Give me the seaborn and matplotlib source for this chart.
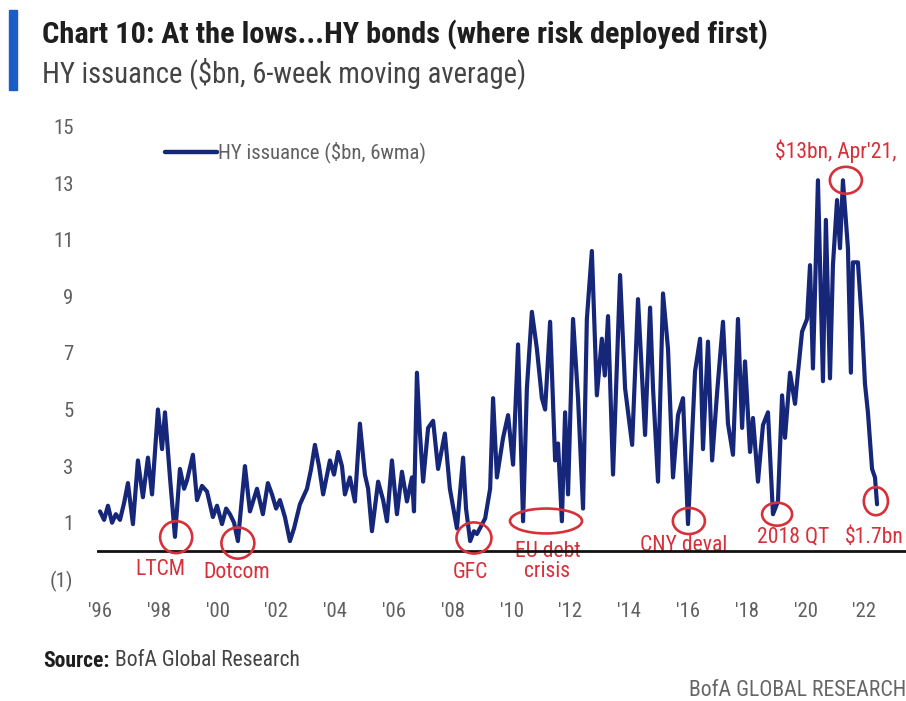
import matplotlib
matplotlib.use("Agg")
import matplotlib.pyplot as plt
from matplotlib import font_manager as fm
from matplotlib.patches import Ellipse, Rectangle
import seaborn as sns
import pandas as pd

# Weekly-ish HY issuance readings ($bn, 6-week moving average), by decimal year
years = [
    1996.00, 1996.14, 1996.27, 1996.41, 1996.54, 1996.68, 1996.82, 1996.95,
    1997.12, 1997.29, 1997.46, 1997.63, 1997.77, 1997.97, 1998.11, 1998.21,
    1998.38, 1998.55, 1998.72, 1998.86, 1998.96, 1999.16, 1999.30, 1999.47,
    1999.64, 1999.84, 1999.98, 2000.15, 2000.29, 2000.42, 2000.56, 2000.69,
    2000.93, 2001.10, 2001.34, 2001.54, 2001.71, 2001.85, 2001.99, 2002.12,
    2002.29, 2002.46, 2002.60, 2002.80, 2003.04, 2003.18, 2003.31, 2003.45,
    2003.59, 2003.82, 2003.96, 2004.10, 2004.23, 2004.33, 2004.50, 2004.67,
    2004.84, 2005.01, 2005.12, 2005.25, 2005.46, 2005.63, 2005.76, 2005.93,
    2006.10, 2006.27, 2006.44, 2006.61, 2006.68, 2006.78, 2006.88, 2006.99,
    2007.16, 2007.33, 2007.50, 2007.73, 2007.90, 2008.14, 2008.35, 2008.45,
    2008.59, 2008.72, 2008.82, 2009.10, 2009.27, 2009.37, 2009.50, 2009.71,
    2009.88, 2010.05, 2010.22, 2010.39, 2010.52, 2010.69, 2010.86, 2011.03,
    2011.14, 2011.31, 2011.48, 2011.58, 2011.71, 2011.82, 2011.92, 2012.09,
    2012.26, 2012.43, 2012.56, 2012.73, 2012.90, 2013.07, 2013.17, 2013.28,
    2013.45, 2013.69, 2013.86, 2014.10, 2014.30, 2014.54, 2014.71, 2014.81,
    2014.98, 2015.15, 2015.32, 2015.49, 2015.66, 2015.83, 2016.00, 2016.24,
    2016.41, 2016.51, 2016.68, 2016.82, 2016.99, 2017.19, 2017.36, 2017.53,
    2017.70, 2017.84, 2017.94, 2018.11, 2018.21, 2018.38, 2018.55, 2018.72,
    2018.89, 2019.06, 2019.20, 2019.30, 2019.47, 2019.64, 2019.74, 2019.88,
    2020.05, 2020.15, 2020.25, 2020.42, 2020.59, 2020.69, 2020.83, 2020.93,
    2021.07, 2021.17, 2021.27, 2021.44, 2021.54, 2021.61, 2021.78, 2021.92,
    2022.02, 2022.12, 2022.26, 2022.36, 2022.43,
]
issuance = [
    1.4, 1.1, 1.6, 1.0, 1.3, 1.1, 1.7, 2.4,
    0.95, 3.2, 1.9, 3.3, 2.0, 5.0, 3.6, 4.9,
    2.6, 0.5, 2.9, 2.2, 2.5, 3.4, 1.8, 2.3,
    2.1, 1.2, 1.6, 0.95, 1.5, 1.3, 1.0, 0.35,
    3.0, 1.4, 2.2, 1.3, 2.4, 2.0, 1.5, 1.8,
    1.2, 0.35, 0.8, 1.65, 2.2, 2.9, 3.75, 3.0,
    2.0, 3.2, 2.7, 3.5, 3.0, 2.0, 2.6, 1.75,
    4.5, 2.7, 2.2, 0.7, 2.45, 1.8, 1.05, 3.2,
    1.3, 2.8, 1.75, 2.6, 1.4, 6.3, 4.2, 2.45,
    4.35, 4.6, 2.9, 4.15, 2.2, 0.8, 3.3, 1.5,
    0.35, 0.7, 0.6, 1.15, 2.2, 5.4, 2.6, 4.0,
    4.8, 3.05, 7.3, 1.05, 5.75, 8.45, 7.15, 5.4,
    5.0, 8.1, 3.2, 3.8, 1.05, 4.9, 2.0, 8.2,
    5.4, 1.5, 8.2, 10.6, 5.5, 7.5, 6.2, 8.3,
    2.7, 9.75, 5.75, 3.75, 8.9, 4.1, 8.6, 5.75,
    2.45, 9.1, 7.15, 2.6, 4.8, 5.4, 0.95, 6.35,
    7.5, 3.6, 7.4, 3.2, 5.6, 8.1, 4.5, 3.4,
    8.2, 4.35, 6.7, 3.5, 4.7, 2.45, 4.45, 4.9,
    1.3, 1.75, 5.5, 4.0, 6.3, 5.2, 6.3, 7.75,
    8.2, 10.1, 6.45, 13.1, 6.0, 11.7, 6.1, 10.1,
    12.4, 10.7, 13.1, 10.7, 6.3, 10.2, 10.2, 8.0,
    5.9, 4.9, 2.9, 2.6, 1.65,
]

tick_years = list(range(1996, 2023, 2))
tick_labels = ["'96", "'98", "'00", "'02", "'04", "'06", "'08",
               "'10", "'12", "'14", "'16", "'18", "'20", "'22"]
y_ticks = [-1, 1, 3, 5, 7, 9, 11, 13, 15]
y_tick_labels = ["(1)", "1", "3", "5", "7", "9", "11", "13", "15"]

# Market stress lows and the latest/peak readings that get circled
marker_year = [1998.59, 2000.69, 2008.72, 2011.17, 2016.03, 2019.03, 2022.39, 2021.37]
marker_value = [0.49, 0.28, 0.46, 1.06, 1.06, 1.30, 1.76, 13.10]
marker_w = [1.09, 1.12, 1.19, 2.45, 1.09, 1.02, 0.82, 1.09]
marker_h = [1.13, 1.10, 1.10, 0.88, 0.92, 0.81, 0.99, 0.95]

event_labels = ["LTCM", "Dotcom", "GFC", "EU debt\ncrisis", "CNY deval",
                "2018 QT", "$1.7bn", "$13bn, Apr'21,"]
label_x = [1998.07, 2000.66, 2008.59, 2011.22, 2015.86, 2019.57, 2021.34, 2018.96]
label_y = [-0.67, -0.77, -0.77, -0.38, 0.18, 0.49, 0.49, 14.12]
label_ha = ["center", "center", "center", "center", "center", "center", "left", "left"]

NAVY = "#16277a"
RED = "#d6303a"
GREY = "#606060"

sns.set_theme(style="white")

# Prefer a narrow sans face for the house style, falling back to regular ones
names = {f.name for f in fm.fontManager.ttflist}
family, stretch = None, "normal"
for cand in ["Liberation Sans Narrow", "Roboto Condensed", "Open Sans Condensed",
             "Noto Sans Condensed", "DejaVu Sans Condensed", "Arial Narrow"]:
    if cand in names:
        family = cand
        break
if family is None:
    for cand in ["Noto Sans", "Roboto", "Open Sans", "DejaVu Sans"]:
        if any(f.name == cand and f.stretch in ("condensed", "semi-condensed")
               for f in fm.fontManager.ttflist):
            family, stretch = cand, "condensed"
            break
if family is None:
    family = "Lato" if "Lato" in names else "DejaVu Sans"
plt.rcParams["font.family"] = [family, "DejaVu Sans"]
plt.rcParams["font.stretch"] = stretch

df = pd.DataFrame({"year": years, "HY issuance ($bn, 6wma)": issuance})

W, H = 906, 701
fig = plt.figure(figsize=(W / 100, H / 100), dpi=100)
ax_left, ax_right, ax_top, ax_bottom = 97, 906, 126.5, 579.3
ax = fig.add_axes([ax_left / W, 1 - ax_bottom / H,
                   (ax_right - ax_left) / W, (ax_bottom - ax_top) / H])

sns.lineplot(data=df, x="year", y="HY issuance ($bn, 6wma)", ax=ax,
             color=NAVY, linewidth=3.0, label="HY issuance ($bn, 6wma)",
             solid_joinstyle="round", solid_capstyle="round")

ax.set_xlim(1995.898, 2023.415)
ax.set_ylim(-1, 15)
ax.axhline(0, color="#111111", linewidth=2.0, zorder=5)

for s in ax.spines.values():
    s.set_visible(False)
ax.grid(False)
ax.set_xlabel("")
ax.set_ylabel("")
ax.set_xticks(tick_years)
ax.set_xticklabels(tick_labels)
ax.set_yticks(y_ticks)
ax.set_yticklabels(y_tick_labels)
ax.tick_params(axis="both", length=0, labelsize=14, labelcolor=GREY)
ax.tick_params(axis="x", pad=16)
ax.tick_params(axis="y", pad=17)

# Circles around the lows and the peak
for xc, yc, w, h in zip(marker_year, marker_value, marker_w, marker_h):
    ax.add_patch(Ellipse((xc, yc), w, h, fill=False, edgecolor=RED,
                         linewidth=1.9, zorder=6))

event_texts = []
for txt, xt, yt, ha in zip(event_labels, label_x, label_y, label_ha):
    event_texts.append(ax.text(xt, yt, txt, color=RED, fontsize=15, ha=ha,
                               va="center", linespacing=0.95, zorder=4))

leg = ax.legend(loc="center left", bbox_to_anchor=(0.084, 0.943),
                frameon=False, fontsize=14, handlelength=2.7,
                handletextpad=0.05, borderpad=0, borderaxespad=0,
                labelcolor=GREY)
for line in leg.get_lines():
    line.set_linewidth(3.2)

# Header, side bar and footer
fig.patches.append(Rectangle((9 / W, 1 - 90 / H), 8 / W, 80 / H,
                             transform=fig.transFigure, color="#1a5cc8"))
title = fig.text(42 / W, 1 - 35 / H,
                 "Chart 10: At the lows...HY bonds (where risk deployed first)",
                 fontsize=20, fontweight="bold", color="#1e1e1e", va="center")
subtitle = fig.text(42 / W, 1 - 73 / H, "HY issuance ($bn, 6-week moving average)",
                    fontsize=17, color="#444444", va="center")
src_label = fig.text(43 / W, 1 - 661 / H, "Source:", fontsize=12.5,
                     fontweight="bold", color="#1e1e1e", va="center")
src_text = fig.text(116 / W, 1 - 661 / H, "BofA Global Research", fontsize=12.5,
                    color="#444444", va="center")
brand = fig.text(906 / W, 1 - 691 / H, "BofA GLOBAL RESEARCH", fontsize=12.5,
                 color="#666666", va="center", ha="right")

# Size the texts to their set widths so the layout holds for any face
fig.canvas.draw()
renderer = fig.canvas.get_renderer()


def fit(artist, target_px):
    w = artist.get_window_extent(renderer).width
    scale = target_px / w
    artist.set_fontsize(artist.get_fontsize() * scale)
    return scale


fit(title, 723)
fit(subtitle, 483)
fit(src_text, 187)
src_label.set_fontsize(src_text.get_fontsize())
fit(brand, 218)
lscale = fit(leg.get_texts()[0], 209)
ax.tick_params(axis="both", labelsize=14 * lscale)
rscale = fit(event_texts[4], 87)
for t in event_texts:
    if t is not event_texts[4]:
        t.set_fontsize(15 * rscale)

fig.canvas.draw()
lab_box = src_label.get_window_extent(renderer)
src_text.set_x((lab_box.x1 + 6) / W)

fig.savefig("out.png", dpi=100)
